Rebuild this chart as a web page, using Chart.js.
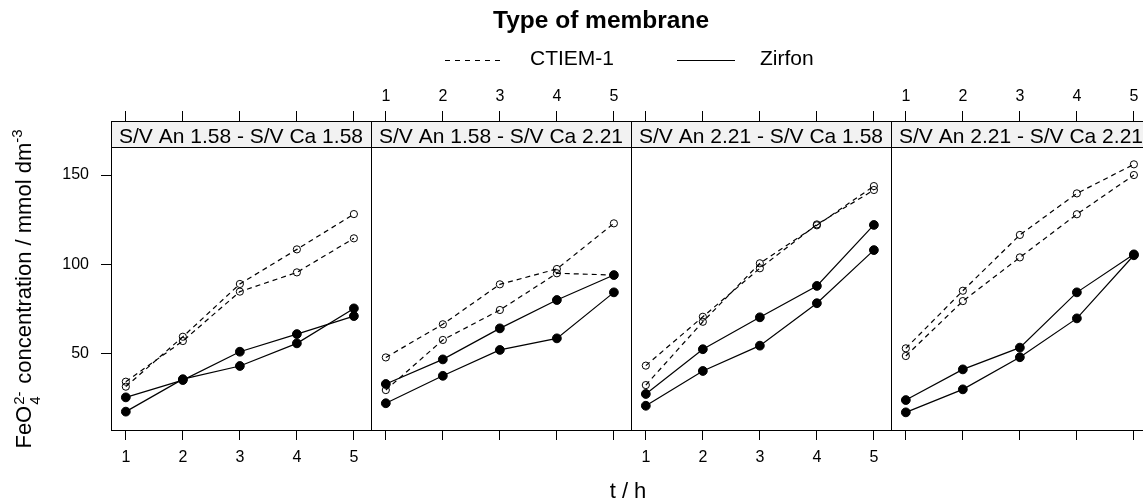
<!DOCTYPE html>
<html>
<head>
<meta charset="utf-8">
<script src="https://cdn.jsdelivr.net/npm/chart.js@4/dist/chart.umd.min.js"></script>
<style>
  html, body { margin: 0; padding: 0; background: #fff; overflow: hidden; width: 1143px; height: 499px; }
  #wrap { position: relative; width: 1160px; height: 499px; font-family: "Liberation Sans", Arial, sans-serif; color: #000; }
  canvas { position: absolute; left: 0; top: 0; }
  .abs { position: absolute; white-space: nowrap; }
  #title { left: 601px; top: 8px; transform: translateX(-50%); font-weight: bold; font-size: 24.5px; line-height: 24.5px; }
  .legtxt { font-size: 21px; line-height: 21px; top: 47px; }
  .legline { top: 55px; }
  #xlab { left: 628px; top: 480px; transform: translateX(-50%); font-size: 22px; line-height: 22px; }
  #ylab { left: 24px; top: 289px; width: 360px; height: 26px; margin-left: -180px; margin-top: -13px;
          transform: rotate(-90deg); text-align: center; font-size: 22px; line-height: 26px; }
  .ss { display: inline-block; position: relative; width: 16px; height: 0; }
  .ss span { position: absolute; left: 1px; font-size: 15px; line-height: 15px; }
  .ss .sp { top: -20px; }
  .ss .sb { top: -4px; }
  .sup3 { font-size: 15px; position: relative; top: -9px; }
</style>
</head>
<body>
<div id="wrap">
  <canvas id="c0" width="1160" height="499"></canvas>
  <canvas id="c1" width="1160" height="499"></canvas>
  <canvas id="c2" width="1160" height="499"></canvas>
  <canvas id="c3" width="1160" height="499"></canvas>
  <div id="title" class="abs">Type of membrane</div>
  <svg class="abs legline" style="left:445px;" width="60" height="10"><line x1="0" y1="5.5" x2="58" y2="5.5" stroke="#000" stroke-width="1.2" stroke-dasharray="5,5"/></svg>
  <div class="abs legtxt" style="left:530px;">CTIEM-1</div>
  <svg class="abs legline" style="left:677px;" width="60" height="10"><line x1="0" y1="5.5" x2="58" y2="5.5" stroke="#000" stroke-width="1.2"/></svg>
  <div class="abs legtxt" style="left:760px;">Zirfon</div>
  <div id="xlab" class="abs">t / h</div>
  <div id="ylab" class="abs">FeO<span class="ss"><span class="sp">2-</span><span class="sb">4</span></span> concentration / mmol dm<span class="sup3">-3</span></div>
</div>
<script>
// ---- data ----
const tHours = [1, 2, 3, 4, 5];
const xTickValues = [1, 2, 3, 4, 5];
const yTickValues = [50, 100, 150];
const panelTitles = [
  "S/V An 1.58 - S/V Ca 1.58",
  "S/V An 1.58 - S/V Ca 2.21",
  "S/V An 2.21 - S/V Ca 1.58",
  "S/V An 2.21 - S/V Ca 2.21"
];
const membranes = ["CTIEM-1", "Zirfon"];

const p1CtiemA  = [31.3, 59.3, 88.9, 108.3, 128.1];
const p1CtiemB  = [34.1, 56.9, 84.6, 95.4, 114.5];
const p1ZirfonA = [25.3, 35.0, 50.9, 60.8, 70.9];
const p1ZirfonB = [17.3, 35.5, 42.9, 55.6, 75.2];

const p2CtiemA  = [47.7, 66.3, 88.7, 97.3, 122.9];
const p2CtiemB  = [29.4, 57.5, 74.3, 94.9, 93.9];
const p2ZirfonA = [32.8, 46.6, 64.0, 79.9, 93.9];
const p2ZirfonB = [22.0, 37.4, 51.9, 58.4, 84.2];

const p3CtiemA  = [43.1, 70.5, 97.7, 122.3, 141.6];
const p3CtiemB  = [32.2, 67.7, 100.5, 121.8, 143.8];
const p3ZirfonA = [27.2, 52.3, 70.2, 87.8, 122.0];
const p3ZirfonB = [20.6, 40.1, 54.3, 78.1, 107.9];

const p4CtiemA  = [52.8, 85.1, 116.4, 139.7, 156.0];
const p4CtiemB  = [48.5, 79.3, 103.8, 128.0, 150.0];
const p4ZirfonA = [23.8, 41.0, 53.2, 84.2, 105.5];
const p4ZirfonB = [16.9, 29.8, 47.8, 69.6, 105.0];

const panelSeries = [
  [p1CtiemA, p1CtiemB, p1ZirfonA, p1ZirfonB],
  [p2CtiemA, p2CtiemB, p2ZirfonA, p2ZirfonB],
  [p3CtiemA, p3CtiemB, p3ZirfonA, p3ZirfonB],
  [p4CtiemA, p4CtiemB, p4ZirfonA, p4ZirfonB]
];

// ---- layout ----
const CW = 1160, CH = 499;
const panelLefts = [111, 371, 631, 891];
const panelW = 260;
const areaTop = 121, areaBottom = 430;
const stripH = 26;
const X_MIN = 0.74, X_MAX = 5.30;
const Y_MIN = 7, Y_MAX = 180.3;
const FONT = '"Liberation Sans", Arial, sans-serif';

const panelPlugin = {
  id: 'panelDeco',
  beforeDatasetsDraw(chart, args, opts) {
    const { ctx, chartArea: a } = chart;
    const l = Math.round(a.left) + 0.5, r = Math.round(a.right) + 0.5;
    const t = Math.round(a.top) + 0.5;
    ctx.save();
    ctx.fillStyle = '#f2f2f2';
    ctx.fillRect(l, t, r - l, stripH);
    ctx.strokeStyle = '#000';
    ctx.lineWidth = 1;
    ctx.strokeRect(l, t, r - l, stripH);
    ctx.fillStyle = '#000';
    ctx.font = '21px ' + FONT;
    ctx.textAlign = 'center';
    ctx.textBaseline = 'alphabetic';
    ctx.fillText(opts.title, (a.left + a.right) / 2, t + 21.5);
    ctx.restore();
  },
  afterDatasetsDraw(chart) {
    const { ctx, chartArea: a } = chart;
    const l = Math.round(a.left) + 0.5, r = Math.round(a.right) + 0.5;
    const t = Math.round(a.top) + 0.5, b = Math.round(a.bottom) + 0.5;
    ctx.save();
    ctx.strokeStyle = '#000';
    ctx.lineWidth = 1;
    ctx.strokeRect(l, t, r - l, b - t);
    ctx.restore();
  }
};

function makeDatasets(series) {
  return series.map((vals, i) => {
    const isCtiem = i < 2;
    return {
      label: membranes[isCtiem ? 0 : 1],
      data: tHours.map((t, j) => ({ x: t, y: vals[j] })),
      borderColor: '#000',
      borderWidth: 1.2,
      borderDash: isCtiem ? [5, 4] : [],
      pointRadius: isCtiem ? 3.6 : 4.4,
      pointBorderWidth: 1,
      pointBorderColor: '#000',
      pointBackgroundColor: isCtiem ? 'rgba(0,0,0,0)' : '#000',
      tension: 0,
      xAxisID: 'x',
      yAxisID: 'y'
    };
  });
}

function xScale(position, showLabels, pad) {
  return {
    type: 'linear',
    position: position,
    min: X_MIN, max: X_MAX,
    afterBuildTicks: s => { s.ticks = xTickValues.map(v => ({ value: v })); },
    afterFit: s => { s.height = 40; },
    grid: { drawOnChartArea: false, drawTicks: true, tickLength: 10, color: '#000', tickColor: '#000', lineWidth: 1 },
    border: { display: false },
    ticks: { display: showLabels, padding: pad, color: '#000', font: { size: 16, family: FONT }, maxRotation: 0, autoSkip: false }
  };
}

Chart.defaults.font.family = FONT;

panelSeries.forEach((series, k) => {
  const L = panelLefts[k];
  const yOpts = {
    type: 'linear',
    display: k === 0,
    position: 'left',
    min: Y_MIN, max: Y_MAX,
    afterBuildTicks: s => { s.ticks = yTickValues.map(v => ({ value: v })); },
    grid: { drawOnChartArea: false, drawTicks: true, tickLength: 10, color: '#000', tickColor: '#000', lineWidth: 1 },
    border: { display: false },
    ticks: { padding: 12, color: '#000', font: { size: 16, family: FONT } }
  };
  if (k === 0) yOpts.afterFit = s => { s.width = L; };
  new Chart(document.getElementById('c' + k), {
    type: 'line',
    data: { datasets: makeDatasets(series) },
    plugins: [panelPlugin],
    options: {
      responsive: false,
      animation: false,
      devicePixelRatio: 1,
      layout: { padding: { left: k === 0 ? 0 : L, right: CW - (L + panelW), top: areaTop - 40, bottom: CH - areaBottom - 40 } },
      plugins: {
        legend: { display: false },
        tooltip: { enabled: false },
        panelDeco: { title: panelTitles[k] }
      },
      scales: {
        x: xScale('bottom', k % 2 === 0, 8),
        xTop: xScale('top', k % 2 === 1, 5),
        y: yOpts
      }
    }
  });
});
</script>
</body>
</html>
